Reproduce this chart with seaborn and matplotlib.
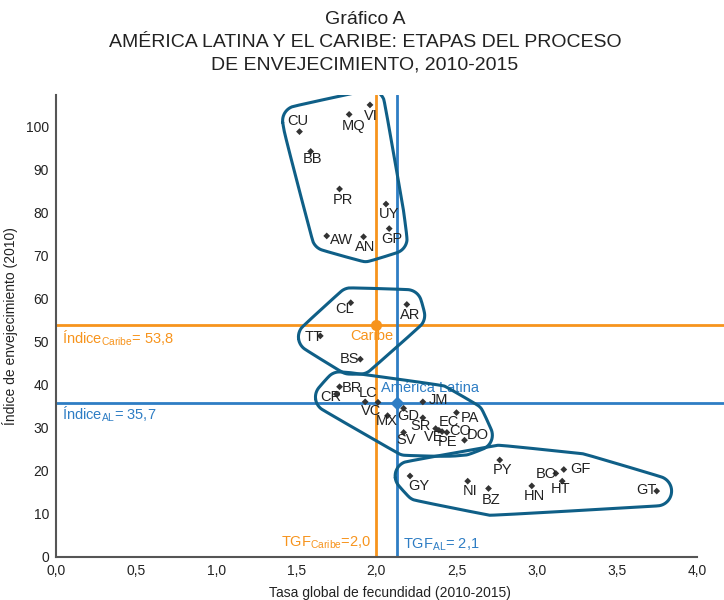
import numpy as np
import pandas as pd
import matplotlib
matplotlib.use('Agg')
import matplotlib.pyplot as plt
import seaborn as sns

############### data
codes = ['CU', 'MQ', 'VI', 'BB', 'PR', 'UY', 'GP', 'AW', 'AN',
         'CL', 'AR', 'TT', 'BS',
         'BR', 'CR', 'LC', 'VC', 'MX', 'GD', 'JM', 'SR', 'PA', 'EC', 'VE', 'PE', 'CO', 'DO', 'SV',
         'GY', 'NI', 'BZ', 'PY', 'HN', 'BO', 'GF', 'HT', 'GT']
tgf = [1.52, 1.83, 1.96, 1.59, 1.77, 2.06, 2.08, 1.69, 1.92,
       1.84, 2.19, 1.65, 1.90,
       1.77, 1.75, 1.93, 2.01, 2.07, 2.17, 2.29, 2.29, 2.50, 2.37, 2.39, 2.41, 2.44, 2.55, 2.17,
       2.21, 2.57, 2.70, 2.77, 2.97, 3.12, 3.17, 3.16, 3.75]
indice = [98.7, 102.7, 104.9, 94.1, 85.4, 81.9, 76.2, 74.5, 74.3,
          59.0, 58.6, 51.3, 45.9,
          39.5, 37.8, 36.0, 35.9, 32.8, 34.5, 36.0, 32.3, 33.5, 29.8, 29.4, 29.1, 28.9, 27.1, 28.9,
          18.8, 17.6, 15.9, 22.5, 16.5, 19.4, 20.3, 17.6, 15.3]
etapa = [1] * 9 + [2] * 4 + [3] * 15 + [4] * 9

tgf_caribe, indice_caribe = 2.0, 53.8
tgf_al, indice_al = 2.13, 35.7

# label offsets in pixels (dx, dy) from each point
offsets = {'CU': (-2, 11), 'MQ': (4, -12), 'VI': (1, -11), 'BB': (2, -8), 'PR': (3, -11),
           'UY': (3, -10), 'GP': (3, -10), 'AW': (15, -4), 'AN': (2, -10),
           'CL': (-6, -6), 'AR': (3, -11), 'TT': (-7, -1), 'BS': (-11, 0),
           'BR': (12, -1), 'CR': (-6, -3), 'LC': (3, 9), 'VC': (-7, -9), 'MX': (-1, -5),
           'GD': (5, -8), 'JM': (16, 2), 'SR': (-2, -8), 'PA': (13, -5), 'EC': (13, 7),
           'VE': (-5, -7), 'PE': (5, -10), 'CO': (13, 1), 'DO': (13, 5), 'SV': (2, -8),
           'GY': (9, -10), 'NI': (2, -10), 'BZ': (3, -12), 'PY': (3, -10), 'HN': (3, -10),
           'BO': (-9, -1), 'GF': (17, 1), 'HT': (-2, -8), 'GT': (-10, 1)}

ORANGE = '#F7941D'
BLUE = '#2E7DC4'
BLOB = '#0F5F87'
GREY = '#555555'

df = pd.DataFrame({'code': codes, 'tgf': tgf, 'indice': indice, 'etapa': etapa})


def convex_hull(p):
    p = sorted(map(tuple, p))

    def cross(o, a, b):
        return (a[0] - o[0]) * (b[1] - o[1]) - (a[1] - o[1]) * (b[0] - o[0])

    lower, upper = [], []
    for q in p:
        while len(lower) >= 2 and cross(lower[-2], lower[-1], q) <= 0:
            lower.pop()
        lower.append(q)
    for q in reversed(p):
        while len(upper) >= 2 and cross(upper[-2], upper[-1], q) <= 0:
            upper.pop()
        upper.append(q)
    return np.array(lower[:-1] + upper[:-1])


def chaikin(p, n=4):
    for _ in range(n):
        q = np.roll(p, -1, axis=0)
        p = np.vstack([0.75 * p + 0.25 * q, 0.25 * p + 0.75 * q])
        k = len(p) // 2
        p = np.stack([p[:k], p[k:]], axis=1).reshape(-1, 2)
    return p


def blob(ax, sub, pad=15):
    """rounded hull around the points and their labels of one group"""
    pts = ax.transData.transform(sub[['tgf', 'indice']].values)
    labs = pts + np.array([offsets[c] for c in sub['code']])
    allp = np.vstack([pts, labs])
    ang = np.linspace(0, 2 * np.pi, 24, endpoint=False)
    ring = np.column_stack([np.cos(ang), np.sin(ang)]) * pad
    cloud = (allp[:, None, :] + ring[None, :, :]).reshape(-1, 2)
    h = chaikin(convex_hull(cloud))
    h = np.vstack([h, h[:1]])
    d = ax.transData.inverted().transform(h)
    ax.plot(d[:, 0], d[:, 1], color=BLOB, lw=2.2, zorder=4, solid_capstyle='round')


sns.set_theme(style='white')
plt.rcParams['font.family'] = ['Liberation Sans', 'DejaVu Sans']
plt.rcParams['mathtext.default'] = 'regular'

fig = plt.figure(figsize=(7.24, 6), dpi=100)
ax = fig.add_axes([56 / 724, 43 / 600, 1 - 56 / 724, (557 - 95) / 600])
ax.set_xlim(0, 4.17)
ax.set_ylim(0, 107.2)

ax.axvline(tgf_caribe, color=ORANGE, lw=2, zorder=2)
ax.axhline(indice_caribe, color=ORANGE, lw=2, zorder=2)
ax.axvline(tgf_al, color=BLUE, lw=2, zorder=2)
ax.axhline(indice_al, color=BLUE, lw=2, zorder=2)
ax.plot([tgf_caribe], [indice_caribe], 'o', color=ORANGE, ms=7, zorder=3)
ax.plot([tgf_al], [indice_al], 'D', color=BLUE, ms=6.5, zorder=3)

sns.scatterplot(data=df, x='tgf', y='indice', marker='D', s=12, color='#333333',
                edgecolor='none', ax=ax, zorder=5, legend=False)

for c, x, y in zip(codes, tgf, indice):
    dx, dy = offsets[c]
    ax.annotate(c, (x, y), xytext=(dx, dy), textcoords='offset pixels',
                ha='center', va='center', fontsize=10.5, color='#222222', zorder=6)

for g, sub in df.groupby('etapa'):
    blob(ax, sub)

ax.text(1.972, 51.3, 'Caribe', color=ORANGE, fontsize=10.5, ha='center', va='center')
ax.text(2.03, 39.2, 'América Latina', color=BLUE, fontsize=10.5, ha='left', va='center')
ax.text(0.04, 50.8, r'Índice$_{Caribe}$= 53,8', color=ORANGE, fontsize=10.5, ha='left', va='center')
ax.text(0.04, 33.0, r'Índice$_{AL}$= 35,7', color=BLUE, fontsize=10.5, ha='left', va='center')
ax.text(1.97, 3.2, r'TGF$_{Caribe}$=2,0', color=ORANGE, fontsize=10.5, ha='right', va='center')
ax.text(2.165, 2.8, r'TGF$_{AL}$= 2,1', color=BLUE, fontsize=10.5, ha='left', va='center')

ax.set_xticks(np.arange(0, 4.01, 0.5))
ax.set_xticklabels([f'{v:.1f}'.replace('.', ',') for v in np.arange(0, 4.01, 0.5)])
ax.set_yticks(range(0, 101, 10))
ax.tick_params(axis='both', direction='out', length=2, width=1, color=GREY,
               labelsize=10, labelcolor='#222222', pad=3)
for s in ['top', 'right']:
    ax.spines[s].set_visible(False)
for s in ['left', 'bottom']:
    ax.spines[s].set_color(GREY)
    ax.spines[s].set_linewidth(1.5)
ax.spines['bottom'].set_bounds(0, 4)
ax.set_xlabel('Tasa global de fecundidad (2010-2015)', fontsize=10, color='#222222', labelpad=6)
ax.set_ylabel('Índice de envejecimiento (2010)', fontsize=10, color='#222222', labelpad=6)

fig.text(0.504, 0.982, 'Gráfico A\nAMÉRICA LATINA Y EL CARIBE: ETAPAS DEL PROCESO\nDE ENVEJECIMIENTO, 2010-2015',
         ha='center', va='top', fontsize=14, color='#222222', linespacing=1.45)

plt.savefig('out.png', dpi=100)
